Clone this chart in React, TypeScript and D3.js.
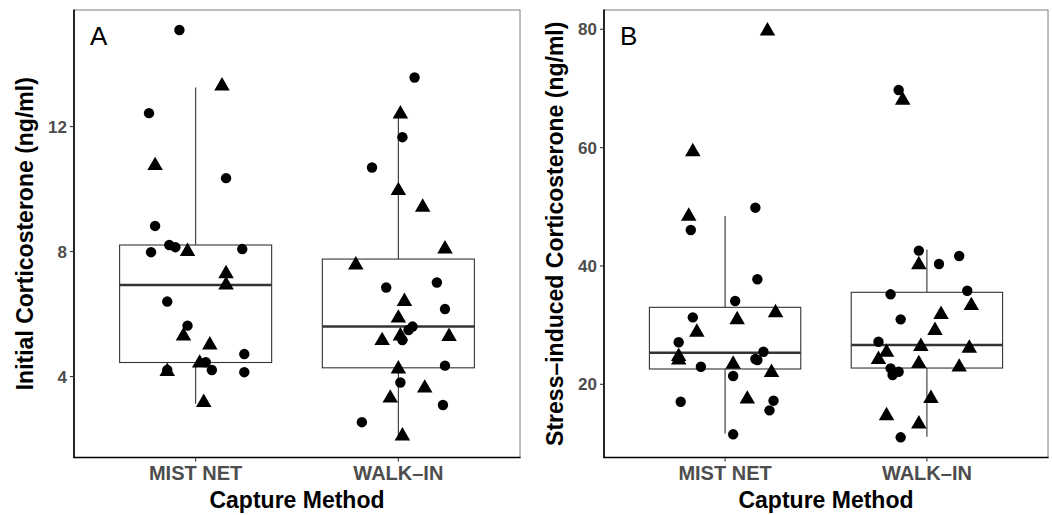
import React from 'react';
import * as d3 from 'd3';

const methods = ['MIST NET', 'WALK–IN'];

// Panel A – initial corticosterone (ng/ml); shape c = circle, t = triangle; jitter in category units
const initialMistNet = [15.09, 13.3, 12.43, 10.75, 10.35, 8.82, 8.21, 8.14, 7.98, 8.0, 8.08, 7.29, 6.93, 6.4, 5.63, 5.3, 5.01, 4.72, 4.43, 4.46, 4.21, 4.21, 4.16, 4.14, 3.17];
const initialMistNetShape = ['c', 't', 'c', 't', 'c', 'c', 'c', 'c', 'c', 't', 'c', 't', 't', 'c', 'c', 't', 't', 'c', 't', 'c', 'c', 'c', 't', 'c', 't'];
const initialMistNetJitter = [-0.08, 0.13, -0.23, -0.2, 0.15, -0.2, -0.13, -0.1, -0.22, -0.04, 0.23, 0.15, 0.15, -0.14, -0.04, -0.06, 0.07, 0.24, 0.02, 0.05, 0.08, -0.14, -0.14, 0.24, 0.04];

const initialWalkIn = [13.57, 12.4, 11.66, 10.69, 9.95, 9.42, 8.08, 7.57, 7.01, 6.85, 6.4, 6.16, 5.87, 5.6, 5.49, 5.3, 5.17, 5.15, 5.28, 4.35, 4.24, 3.81, 3.63, 3.31, 3.09, 2.54, 2.1];
const initialWalkInShape = ['c', 't', 'c', 'c', 't', 't', 't', 't', 'c', 'c', 't', 'c', 't', 'c', 'c', 't', 'c', 't', 't', 'c', 't', 'c', 't', 't', 'c', 'c', 't'];
const initialWalkInJitter = [0.08, 0.01, 0.02, -0.13, 0.0, 0.12, 0.23, -0.21, 0.19, -0.06, 0.03, 0.23, 0.0, 0.07, 0.05, 0.01, 0.02, -0.08, 0.25, 0.23, 0.0, 0.01, 0.13, -0.04, 0.22, -0.18, 0.02];

// box summaries, [MIST NET, WALK-IN]
const initialLow = [3.13, 2.07];
const initialQ1 = [4.45, 4.28];
const initialMedian = [6.93, 5.6];
const initialQ3 = [8.21, 7.76];
const initialHigh = [13.25, 12.4];
const initialTicks = [4, 8, 12];

// Panel B – stress-induced corticosterone (ng/ml)
const stressMistNet = [79.7, 59.3, 49.85, 48.4, 46.08, 37.75, 34.08, 32.1, 30.9, 31.32, 28.8, 27.1, 24.7, 24.1, 25.51, 24.28, 24.11, 23.4, 22.97, 22.0, 21.4, 17.5, 17.23, 17.06, 15.6, 11.55];
const stressMistNetShape = ['t', 't', 'c', 't', 'c', 'c', 'c', 't', 't', 'c', 't', 'c', 't', 't', 'c', 'c', 'c', 't', 'c', 't', 'c', 't', 'c', 'c', 'c', 'c'];
const stressMistNetJitter = [0.21, -0.16, 0.15, -0.18, -0.17, 0.16, 0.05, 0.25, 0.06, -0.16, -0.14, -0.23, -0.23, -0.23, 0.19, 0.15, 0.16, 0.04, -0.12, 0.23, 0.04, 0.11, 0.24, -0.22, 0.22, 0.04];

const stressWalkIn = [69.74, 68.0, 42.6, 40.2, 40.33, 41.68, 35.21, 35.82, 33.3, 31.8, 30.98, 29.1, 27.2, 26.4, 26.1, 25.4, 24.2, 23.5, 22.9, 22.7, 22.13, 21.57, 17.6, 14.7, 13.3, 11.04];
const stressWalkInShape = ['c', 't', 'c', 't', 'c', 'c', 'c', 'c', 't', 't', 'c', 't', 'c', 't', 't', 't', 't', 't', 't', 'c', 'c', 'c', 't', 't', 't', 'c'];
const stressWalkInJitter = [-0.14, -0.12, -0.04, -0.04, 0.06, 0.16, -0.18, 0.2, 0.22, 0.07, -0.13, 0.04, -0.24, -0.03, 0.21, -0.2, -0.24, -0.04, 0.16, -0.18, -0.14, -0.17, 0.02, -0.2, -0.04, -0.13];

const stressLow = [11.7, 11.15];
const stressQ1 = [22.59, 22.75];
const stressMedian = [25.34, 26.64];
const stressQ3 = [33.01, 35.55];
const stressHigh = [48.45, 42.8];
const stressTicks = [20, 40, 60, 80];

const FONT = '"Liberation Sans", Arial, Helvetica, sans-serif';
const TOP = 10;
const BOTTOM = 457.5;

const circlePath = d3.symbol(d3.symbolCircle, Math.PI * 5.2 * 5.2)();
const trianglePath = d3.symbol(d3.symbolTriangle, 104)();

type Series = { values: number[]; shapes: string[]; jitter: number[] };

type PanelProps = {
  left: number;
  right: number;
  yDomain: [number, number];
  ticks: number[];
  letter: string;
  yTitle: string;
  series: Series[];
  low: number[];
  q1: number[];
  median: number[];
  q3: number[];
  high: number[];
};

function Panel({ left, right, yDomain, ticks, letter, yTitle, series, low, q1, median, q3, high }: PanelProps) {
  const x = d3.scalePoint<string>().domain(methods).range([left, right]).padding(0.6);
  const y = d3.scaleLinear().domain(yDomain).range([BOTTOM, TOP]);
  const step = x.step();
  const half = step * 0.375;
  const boxColor = '#333333';

  return (
    <g>
      {/* panel border */}
      <rect x={left} y={TOP} width={right - left} height={BOTTOM - TOP} fill="none" stroke="#7f7f7f" strokeWidth={1} />

      {/* boxplots */}
      {methods.map((m, i) => {
        const cx = x(m) as number;
        return (
          <g key={m}>
            <line x1={cx} x2={cx} y1={y(high[i])} y2={y(q3[i])} stroke={boxColor} strokeWidth={1.1} />
            <line x1={cx} x2={cx} y1={y(q1[i])} y2={y(low[i])} stroke={boxColor} strokeWidth={1.1} />
            <rect x={cx - half} y={y(q3[i])} width={half * 2} height={y(q1[i]) - y(q3[i])} fill="#ffffff" stroke={boxColor} strokeWidth={1.1} />
            <line x1={cx - half} x2={cx + half} y1={y(median[i])} y2={y(median[i])} stroke={boxColor} strokeWidth={2.4} />
          </g>
        );
      })}

      {/* jittered points */}
      {series.map((s, i) => {
        const cx = x(methods[i]) as number;
        return (
          <g key={i}>
            {s.values.map((v, j) => (
              <path
                key={j}
                d={s.shapes[j] === 't' ? trianglePath : circlePath}
                transform={`translate(${cx + s.jitter[j] * step},${y(v)})`}
                fill="#000"
              />
            ))}
          </g>
        );
      })}

      {/* axes */}
      <line x1={left} x2={left} y1={TOP - 0.5} y2={BOTTOM} stroke="#000" strokeWidth={1.6} />
      <line x1={left - 0.8} x2={right + 0.5} y1={BOTTOM} y2={BOTTOM} stroke="#000" strokeWidth={1.6} />

      {ticks.map(t => (
        <g key={t}>
          <line x1={left - 4} x2={left} y1={y(t)} y2={y(t)} stroke="#333" strokeWidth={1.1} />
          <text x={left - 7} y={y(t)} dy="0.35em" textAnchor="end" fontFamily={FONT} fontWeight="bold" fontSize={17} fill="#4d4d4d">
            {t}
          </text>
        </g>
      ))}

      {methods.map(m => (
        <g key={m}>
          <line x1={x(m)} x2={x(m)} y1={BOTTOM} y2={BOTTOM + 4} stroke="#333" strokeWidth={1.1} />
          <text x={x(m)} y={480} textAnchor="middle" fontFamily={FONT} fontWeight="bold" fontSize={20} fill="#4d4d4d">
            {m}
          </text>
        </g>
      ))}

      <text x={(left + right) / 2} y={508} textAnchor="middle" fontFamily={FONT} fontWeight="bold" fontSize={23} fill="#000">
        Capture Method
      </text>
      <text
        transform={`translate(${left - 41},${(TOP + BOTTOM) / 2}) rotate(-90)`}
        textAnchor="middle"
        fontFamily={FONT}
        fontWeight="bold"
        fontSize={23}
        fill="#000"
      >
        {yTitle}
      </text>

      <text x={left + 16} y={45} fontFamily={FONT} fontSize={26} fill="#000">
        {letter}
      </text>
    </g>
  );
}

export default function App() {
  return (
    <svg
      width={1052}
      height={515}
      style={{ position: 'absolute', left: 0, top: 0, background: '#fff', display: 'block' }}
    >
      <rect width={1052} height={515} fill="#fff" />
      <Panel
        left={74}
        right={520}
        yDomain={[1.41, 15.73]}
        ticks={initialTicks}
        letter="A"
        yTitle="Initial Corticosterone (ng/ml)"
        series={[
          { values: initialMistNet, shapes: initialMistNetShape, jitter: initialMistNetJitter },
          { values: initialWalkIn, shapes: initialWalkInShape, jitter: initialWalkInJitter },
        ]}
        low={initialLow}
        q1={initialQ1}
        median={initialMedian}
        q3={initialQ3}
        high={initialHigh}
      />
      <Panel
        left={604}
        right={1048}
        yDomain={[7.63, 83.26]}
        ticks={stressTicks}
        letter="B"
        yTitle="Stress–induced Corticosterone (ng/ml)"
        series={[
          { values: stressMistNet, shapes: stressMistNetShape, jitter: stressMistNetJitter },
          { values: stressWalkIn, shapes: stressWalkInShape, jitter: stressWalkInJitter },
        ]}
        low={stressLow}
        q1={stressQ1}
        median={stressMedian}
        q3={stressQ3}
        high={stressHigh}
      />
    </svg>
  );
}
